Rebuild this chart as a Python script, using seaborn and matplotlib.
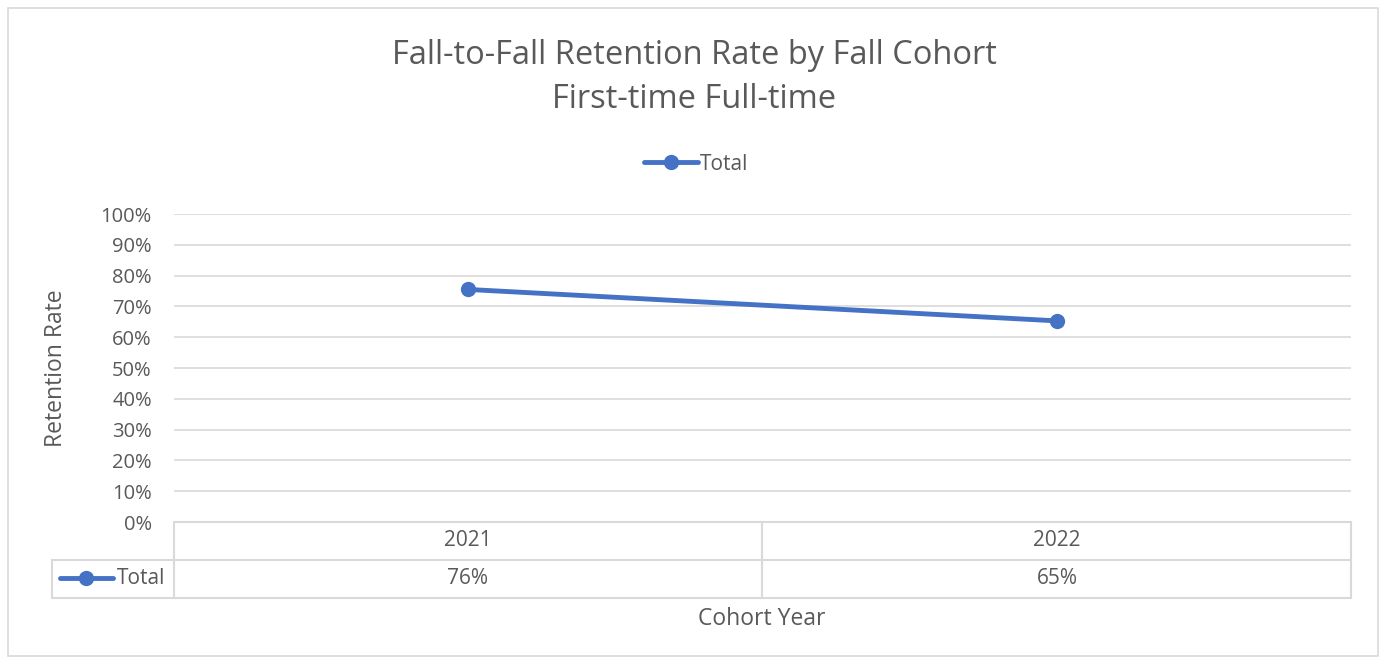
import pandas as pd
import matplotlib.pyplot as plt
from matplotlib.lines import Line2D
from matplotlib.patches import Rectangle
import seaborn as sns

years = ["2021", "2022"]
retention = [0.755, 0.653]
table_labels = ["76%", "65%"]

blue = "#4472C4"
grey_text = "#595959"
grid_col = "#D9D9D9"

sns.set_theme(style="white")
plt.rcParams['font.family'] = ['Open Sans', 'DejaVu Sans']

df = pd.DataFrame({"Cohort": years, "Rate": retention})

fig = plt.figure(figsize=(13.8, 6.61), dpi=100)
W, H = 1380, 661
ax = fig.add_axes([174 / W, 1 - 522 / H, (1351 - 174) / W, (522 - 214) / H])

sns.lineplot(data=df, x="Cohort", y="Rate", ax=ax, color=blue, linewidth=3.5,
             marker="o", markersize=11, markeredgewidth=0, label="Total", sort=False)

ax.set_xlim(-0.5, 1.5)
ax.set_ylim(0, 1.0)
ax.set_yticks([i / 10 for i in range(11)])
ax.set_yticklabels([f"{i * 10}%" for i in range(11)], color=grey_text, fontsize=14.5)
ax.tick_params(axis="y", length=0, pad=16)
ax.set_xticks([])
ax.set_xlabel("")
ax.set_ylabel("Retention Rate", color=grey_text, fontsize=16.5)
ax.yaxis.set_label_coords((68 - 174) / (1351 - 174), 0.5)
for s in ax.spines.values():
    s.set_visible(False)
ax.grid(axis="y", color=grid_col, linewidth=1.2)
ax.set_axisbelow(True)

# legend on top
ax.legend(handles=[Line2D([], [], color=blue, lw=3.5, marker="o", ms=11, mew=0)],
          labels=["Total"], loc="center", frameon=False, fontsize=15,
          handlelength=2.6, handletextpad=0.1, labelcolor=grey_text)
leg = ax.get_legend()
leg.set_bbox_to_anchor((696 / W, 1 - 164 / H), transform=fig.transFigure)

# title
fig.text(694 / W, 1 - 55 / H, "Fall-to-Fall Retention Rate by Fall Cohort", ha="center", va="center",
         fontsize=23.5, color=grey_text)
fig.text(694 / W, 1 - 100 / H, "First-time Full-time", ha="center", va="center",
         fontsize=23.5, color=grey_text)

# data table under the axis
def fx(px):
    return px / W

def fy(py):
    return 1 - py / H

lw = 1.5
lines = [
    ((174, 1351), (522, 522)),
    ((52, 1351), (560, 560)),
    ((52, 1351), (598, 598)),
    ((174, 174), (522, 598)),
    ((762, 762), (522, 598)),
    ((1351, 1351), (522, 598)),
    ((52, 52), (560, 598)),
]
for xs, ys in lines:
    fig.add_artist(Line2D([fx(xs[0]), fx(xs[1])], [fy(ys[0]), fy(ys[1])],
                          color=grid_col, lw=lw, transform=fig.transFigure))

col_centres = [468, 1057]
for i, yr in enumerate(years):
    fig.text(fx(col_centres[i]), fy(541), yr, ha="center", va="center", fontsize=15, color=grey_text)
    fig.text(fx(col_centres[i]), fy(579), table_labels[i], ha="center", va="center", fontsize=15, color=grey_text)

# legend key in table
fig.add_artist(Line2D([fx(60), fx(113)], [fy(578), fy(578)], color=blue, lw=3.5,
                      solid_capstyle="round", transform=fig.transFigure))
fig.add_artist(Line2D([fx(86)], [fy(578)], color=blue, marker="o", ms=11, mew=0,
                      transform=fig.transFigure))
fig.text(fx(117), fy(579), "Total", ha="left", va="center", fontsize=15, color=grey_text)

fig.text(fx(762), fy(619), "Cohort Year", ha="center", va="center", fontsize=16.5, color=grey_text)

# chart border
fig.add_artist(Rectangle((fx(8), fy(656)), fx(1370), (648) / H, fill=False,
                         edgecolor=grid_col, lw=1.2, transform=fig.transFigure))

fig.savefig("out.png", dpi=100, facecolor="white")
